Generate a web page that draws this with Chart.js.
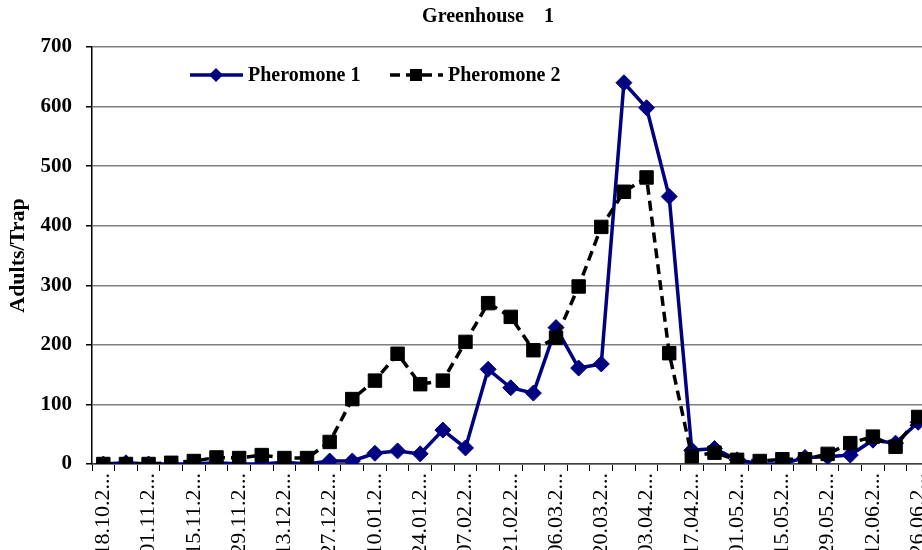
<!DOCTYPE html>
<html>
<head>
<meta charset="utf-8">
<script src="https://cdn.jsdelivr.net/npm/chart.js@4.4.1/dist/chart.umd.min.js"></script>
<style>
  html, body { margin: 0; padding: 0; background: #fff; }
  #frame { width: 922px; height: 550px; overflow: hidden; position: relative; }
  #wrap { width: 940px; height: 550px; position: relative; }
</style>
</head>
<body>
<div id="frame"><div id="wrap"><canvas id="gh1"></canvas></div></div>
<script>
  /* Greenhouse 1 — adultos por armadilha, duas feromonas, leitura semanal */
  const DATES = ['18.10','25.10','01.11','08.11','15.11','22.11','29.11','06.12','13.12','20.12',
                 '27.12','03.01','10.01','17.01','24.01','31.01','07.02','14.02','21.02','28.02',
                 '06.03','13.03','20.03','27.03','03.04','10.04','17.04','24.04','01.05','08.05',
                 '15.05','22.05','29.05','05.06','12.06','19.06','26.06'];

  const PHEROMONE_1 = [0, 2, 0, 0, 0, 2, 0, 0, 3, 0,
                       5, 5, 18, 22, 17, 57, 27, 159, 128, 119,
                       229, 161, 168, 640, 598, 449, 23, 26, 7, 0,
                       0, 11, 12, 15, 40, 35, 70];

  const PHEROMONE_2 = [0, 0, 0, 2, 5, 11, 10, 15, 10, 10,
                       37, 109, 140, 185, 134, 140, 205, 270, 247, 191,
                       212, 298, 398, 457, 481, 186, 13, 19, 7, 5,
                       8, 8, 17, 35, 46, 29, 79];

  const Y_MIN = 0, Y_MAX = 700, Y_STEP = 100;
  const TITLE = 'Greenhouse    1';
  const Y_TITLE = 'Adults/Trap';
  const SERIF = '"Liberation Serif", "Times New Roman", serif';

  // legenda desenhada dentro da área do gráfico, como no original
  const legendInside = {
    id: 'legendInside',
    afterDraw: function (chart) {
      const ctx = chart.ctx;
      const a = chart.chartArea;
      const y = a.top + 28;
      const items = [
        { ds: chart.data.datasets[0], x: a.left + 98, r: 7 },
        { ds: chart.data.datasets[1], x: a.left + 298, r: 6 }
      ];
      ctx.save();
      items.forEach(function (it) {
        const ds = it.ds;
        ctx.strokeStyle = ds.borderColor;
        ctx.lineWidth = 3.5;
        ctx.setLineDash(ds.borderDash || []);
        ctx.beginPath();
        ctx.moveTo(it.x, y);
        ctx.lineTo(it.x + 53, y);
        ctx.stroke();
        ctx.setLineDash([]);
        const cx = it.x + 26;
        const r = it.r;
        ctx.fillStyle = ds.pointBackgroundColor;
        ctx.beginPath();
        if (ds.pointStyle === 'rectRot') {
          ctx.moveTo(cx - r, y); ctx.lineTo(cx, y - r); ctx.lineTo(cx + r, y); ctx.lineTo(cx, y + r);
        } else {
          ctx.rect(cx - r, y - r, 2 * r, 2 * r);
        }
        ctx.closePath();
        ctx.fill();
        ctx.fillStyle = '#000';
        ctx.font = 'bold 20px ' + SERIF;
        ctx.textBaseline = 'middle';
        ctx.textAlign = 'left';
        ctx.fillText(ds.label, it.x + 58, y + 1);
      });
      ctx.restore();
    }
  };

  const titleText = {
    id: 'titleText',
    afterDraw: function (chart) {
      const ctx = chart.ctx;
      ctx.save();
      ctx.fillStyle = '#000';
      ctx.font = 'bold 20px ' + SERIF;
      ctx.textAlign = 'center';
      ctx.textBaseline = 'middle';
      ctx.fillText(TITLE, 488, 17);
      ctx.restore();
    }
  };

  new Chart(document.getElementById('gh1'), {
    type: 'line',
    data: {
      labels: DATES,
      datasets: [
        {
          label: 'Pheromone 1',
          data: PHEROMONE_1,
          borderColor: '#000080',
          backgroundColor: '#000080',
          pointBackgroundColor: '#000080',
          pointBorderColor: '#000080',
          borderWidth: 3.5,
          pointStyle: 'rectRot',
          pointRadius: 8,
          pointBorderWidth: 1,
          tension: 0,
          order: 2
        },
        {
          label: 'Pheromone 2',
          data: PHEROMONE_2,
          borderColor: '#000000',
          backgroundColor: '#000000',
          pointBackgroundColor: '#000000',
          pointBorderColor: '#000000',
          borderWidth: 3.5,
          borderDash: [10, 6],
          pointStyle: 'rect',
          pointRadius: 9.5,
          pointBorderWidth: 1,
          tension: 0,
          order: 1
        }
      ]
    },
    options: {
      responsive: true,
      maintainAspectRatio: false,
      animation: false,
      layout: { padding: { top: 47, right: 2, left: 0, bottom: 0 } },
      plugins: {
        legend: { display: false },
        title: { display: false },
        tooltip: { enabled: false }
      },
      scales: {
        x: {
          offset: true,
          grid: { offset: true, drawOnChartArea: false, drawTicks: true, tickLength: 7, color: '#000', lineWidth: 1 },
          border: { color: '#404040', width: 1.5 },
          ticks: {
            autoSkip: false,
            minRotation: 90,
            maxRotation: 90,
            padding: 2,
            color: '#000',
            font: { family: SERIF, size: 22 },
            callback: function (v, i) { return i % 2 === 0 ? DATES[i] + '.2...' : ''; }
          },
          afterFit: function (s) {
            s.height = 86;
            s.paddingLeft = 0;
            s.paddingRight = 0;
          }
        },
        y: {
          min: Y_MIN,
          max: Y_MAX,
          grid: { color: '#7f7f7f', lineWidth: 1.5, tickColor: '#000', tickLength: 6 },
          border: { color: '#000', width: 1.5 },
          ticks: {
            stepSize: Y_STEP,
            padding: 14,
            color: '#000',
            font: { family: SERIF, size: 21, weight: 'bold' }
          },
          title: {
            display: true,
            text: Y_TITLE,
            color: '#000',
            font: { family: SERIF, size: 22, weight: 'bold' },
            padding: { top: 5, bottom: 0 }
          },
          afterFit: function (s) { s.width = 92; }
        }
      }
    },
    plugins: [legendInside, titleText]
  });
</script>
</body>
</html>
